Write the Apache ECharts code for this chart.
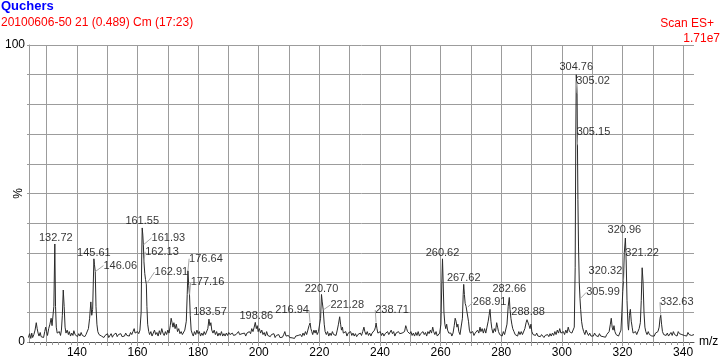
<!DOCTYPE html>
<html>
<head>
<meta charset="utf-8">
<script src="https://cdn.jsdelivr.net/npm/echarts@6/dist/echarts.min.js"></script>
<style>
  html, body { margin: 0; padding: 0; background: #fff; }
  #chart { width: 724px; height: 362px; }
</style>
</head>
<body>
<div id="chart"></div>
<script>
// spectrum profile, [m/z, % relative intensity]
const profile = [
  [124.0,1.5],[124.4,2.8],[124.8,1.2],[125.1,3.0],[125.4,1.5],[125.8,2.5],[126.2,4.0],[126.6,6.5],[126.9,4.5],[127.2,3.0],
  [127.5,2.0],[127.9,3.2],[128.2,1.8],[128.6,2.2],[129.0,1.5],[129.4,3.5],[129.7,5.0],[130.0,3.5],[130.3,2.2],[130.7,4.5],
  [131.1,6.0],[131.5,8.0],[131.8,5.5],[132.1,6.0],[132.4,12.0],[132.72,33.0],[132.95,12.0],[133.2,5.0],[133.5,3.0],[133.9,2.5],
  [134.2,3.5],[134.6,2.2],[134.9,4.0],[135.2,9.0],[135.5,17.5],[135.8,12.0],[136.1,5.0],[136.4,3.0],[136.8,4.0],[137.2,2.5],
  [137.5,3.5],[137.9,2.0],[138.3,3.0],[138.7,2.2],[139.0,3.8],[139.4,2.5],[139.8,3.0],[140.2,1.8],[140.6,2.8],[141.0,2.0],
  [141.4,3.2],[141.8,2.2],[142.2,2.6],[142.6,1.8],[143.0,2.5],[143.4,3.0],[143.8,4.5],[144.2,8.0],[144.6,13.5],[144.9,9.0],
  [145.2,11.0],[145.61,28.0],[145.8,26.0],[146.06,23.7],[146.3,12.0],[146.6,6.0],[146.9,3.5],[147.3,2.5],[147.7,3.0],[148.1,2.0],
  [148.5,2.5],[148.9,1.5],[149.3,2.2],[149.7,1.8],[150.1,2.8],[150.5,1.5],[150.9,2.0],[151.3,2.8],[151.7,1.6],[152.1,2.4],
  [152.5,2.0],[152.9,3.0],[153.3,1.8],[153.7,2.5],[154.1,2.0],[154.5,2.8],[154.9,1.8],[155.3,2.4],[155.7,2.0],[156.1,3.0],
  [156.5,2.2],[156.9,2.6],[157.3,2.0],[157.7,3.2],[158.1,2.5],[158.5,3.5],[158.9,4.5],[159.2,3.0],[159.6,2.5],[160.0,3.5],
  [160.4,2.8],[160.8,4.0],[161.2,10.0],[161.4,30.0],[161.55,38.4],[161.75,36.0],[161.93,32.7],[162.13,27.0],[162.4,23.0],[162.65,21.0],
  [162.91,19.5],[163.1,12.0],[163.35,6.0],[163.7,3.5],[164.0,2.5],[164.4,3.5],[164.8,2.0],[165.2,3.0],[165.6,4.0],[166.0,2.5],
  [166.4,3.2],[166.8,2.0],[167.2,3.8],[167.6,2.5],[168.0,4.5],[168.4,3.0],[168.8,2.2],[169.2,3.5],[169.6,2.5],[170.0,4.0],
  [170.4,3.0],[170.8,5.5],[171.1,8.0],[171.4,6.5],[171.7,5.0],[172.0,6.5],[172.4,4.5],[172.8,6.0],[173.2,3.5],[173.6,4.5],
  [174.0,2.8],[174.4,3.5],[174.8,2.5],[175.2,3.0],[175.6,4.0],[176.1,7.0],[176.4,16.0],[176.64,24.0],[176.9,19.0],[177.16,15.8],
  [177.4,9.0],[177.7,4.0],[178.0,3.0],[178.4,2.0],[178.8,3.5],[179.2,2.5],[179.6,4.0],[180.0,2.8],[180.4,3.5],[180.8,2.0],
  [181.2,3.0],[181.6,2.2],[182.0,3.5],[182.4,2.5],[182.8,3.0],[183.2,4.5],[183.57,7.7],[183.9,5.5],[184.2,6.5],[184.5,4.0],
  [184.9,3.0],[185.3,4.0],[185.7,2.5],[186.1,3.5],[186.5,2.0],[186.9,3.0],[187.3,2.2],[187.7,3.5],[188.1,2.0],[188.5,2.8],
  [188.9,2.0],[189.3,3.0],[189.7,2.2],[190.1,3.2],[190.5,2.5],[190.9,2.0],[191.3,3.0],[191.7,2.2],[192.1,1.8],[192.5,2.5],
  [192.9,2.0],[193.3,3.5],[193.7,2.5],[194.1,2.0],[194.5,2.8],[194.9,2.2],[195.3,3.0],[195.7,2.0],[196.1,3.0],[196.5,2.5],
  [196.9,3.5],[197.3,2.8],[197.7,4.5],[198.1,3.5],[198.5,5.0],[198.86,6.6],[199.2,4.5],[199.5,5.5],[199.8,3.5],[200.2,4.5],
  [200.6,3.0],[201.0,4.0],[201.4,2.5],[201.8,3.2],[202.2,2.0],[202.6,3.5],[203.0,2.2],[203.4,2.8],[203.8,1.8],[204.2,2.5],
  [204.6,2.0],[205.0,2.8],[205.4,1.5],[205.8,2.2],[206.2,1.8],[206.6,2.5],[207.0,1.5],[207.4,2.0],[207.8,1.6],[208.2,2.4],
  [208.6,3.5],[209.0,2.0],[209.4,1.5],[209.8,2.2],[210.2,1.5],[210.6,2.0],[211.0,1.4],[211.4,1.8],[211.8,1.2],[212.2,2.0],
  [212.6,1.5],[213.0,2.2],[213.4,1.6],[213.8,2.5],[214.2,1.8],[214.6,3.0],[215.0,2.2],[215.4,3.5],[215.8,2.5],[216.2,4.0],
  [216.6,5.5],[216.94,6.4],[217.2,4.5],[217.5,3.5],[217.8,2.5],[218.2,4.0],[218.6,3.0],[218.9,4.0],[219.3,2.5],[219.7,3.5],
  [220.1,3.0],[220.4,8.0],[220.70,16.0],[220.95,13.5],[221.28,10.8],[221.6,6.0],[221.9,3.5],[222.3,2.5],[222.7,3.5],[223.1,2.0],
  [223.5,3.0],[223.9,2.2],[224.3,3.5],[224.7,2.5],[225.1,3.0],[225.5,2.2],[225.9,4.0],[226.3,6.0],[226.7,8.5],[227.0,6.0],
  [227.3,4.0],[227.6,5.0],[227.9,3.0],[228.3,2.5],[228.7,3.5],[229.1,2.0],[229.5,3.0],[229.9,2.5],[230.3,3.5],[230.7,2.2],
  [231.1,3.0],[231.5,2.0],[231.9,2.8],[232.3,1.8],[232.7,2.5],[233.1,2.0],[233.5,3.0],[233.9,2.2],[234.3,3.5],[234.7,5.0],
  [235.0,3.5],[235.4,2.5],[235.8,3.5],[236.2,2.2],[236.6,3.0],[237.0,2.0],[237.4,3.0],[237.8,2.5],[238.2,4.0],[238.5,5.0],
  [238.71,6.4],[239.0,4.5],[239.3,3.0],[239.7,2.5],[240.1,3.5],[240.5,2.2],[240.9,3.0],[241.3,2.0],[241.7,2.8],[242.1,2.2],
  [242.5,3.5],[242.9,2.5],[243.3,3.0],[243.7,4.0],[244.1,2.8],[244.5,3.5],[244.9,2.0],[245.3,3.0],[245.7,2.5],[246.1,3.5],
  [246.5,2.8],[246.9,2.5],[247.3,3.0],[247.7,2.5],[248.1,3.5],[248.5,5.5],[248.8,4.5],[249.1,3.5],[249.4,4.0],[249.8,2.8],
  [250.2,3.5],[250.6,2.2],[251.0,3.0],[251.4,2.0],[251.8,3.2],[252.2,2.2],[252.6,3.5],[253.0,2.0],[253.4,2.8],[253.8,2.2],
  [254.2,3.5],[254.6,2.5],[255.0,3.2],[255.4,2.0],[255.8,3.5],[256.2,2.8],[256.6,4.0],[257.0,3.0],[257.4,5.0],[257.7,3.5],
  [258.1,2.5],[258.5,3.5],[258.9,2.0],[259.3,2.5],[259.7,3.0],[260.1,6.0],[260.4,20.0],[260.62,28.0],[260.85,20.0],[261.1,10.0],
  [261.4,6.0],[261.7,4.5],[262.0,6.0],[262.3,4.0],[262.7,3.0],[263.0,2.5],[263.4,3.0],[263.7,2.0],[264.1,3.0],[264.5,5.5],
  [264.8,8.0],[265.1,7.0],[265.4,5.0],[265.7,6.0],[266.0,3.5],[266.4,2.5],[266.8,3.0],[267.2,8.0],[267.45,16.0],[267.62,19.4],
  [267.85,16.0],[268.1,13.0],[268.4,12.0],[268.65,12.5],[268.91,11.7],[269.2,7.0],[269.5,4.0],[269.8,3.0],[270.2,2.5],[270.6,3.5],
  [271.0,2.2],[271.4,3.0],[271.8,2.5],[272.2,4.0],[272.6,3.0],[273.0,5.0],[273.3,3.5],[273.7,4.5],[274.1,3.0],[274.5,4.5],
  [274.9,3.0],[275.3,5.0],[275.7,7.0],[276.0,9.0],[276.3,11.0],[276.6,7.0],[276.9,4.5],[277.3,3.0],[277.7,4.5],[278.1,3.5],
  [278.5,6.5],[278.8,5.0],[279.1,3.5],[279.5,2.5],[279.9,3.0],[280.3,2.0],[280.7,3.5],[281.1,2.5],[281.5,3.0],[281.9,6.0],
  [282.3,12.0],[282.66,15.0],[282.9,11.0],[283.2,8.0],[283.5,6.0],[283.8,4.5],[284.2,3.5],[284.6,2.5],[285.0,3.0],[285.4,2.0],
  [285.8,3.5],[286.2,2.5],[286.6,3.5],[287.0,2.5],[287.4,3.0],[287.8,4.5],[288.2,6.5],[288.5,7.5],[288.88,7.9],[289.2,5.5],
  [289.5,4.5],[289.8,6.0],[290.1,3.5],[290.5,2.5],[290.9,3.0],[291.3,2.2],[291.7,3.0],[292.1,2.0],[292.5,2.5],[292.9,1.8],
  [293.3,2.5],[293.7,2.0],[294.1,1.5],[294.5,2.2],[294.9,1.8],[295.3,2.5],[295.7,1.8],[296.1,2.8],[296.5,2.0],[296.9,3.0],
  [297.3,2.2],[297.7,3.5],[298.1,2.5],[298.5,4.0],[298.9,3.0],[299.3,4.5],[299.7,3.0],[300.1,2.5],[300.5,3.5],[300.9,2.5],
  [301.3,4.0],[301.7,3.0],[302.1,5.0],[302.5,3.5],[302.9,4.0],[303.3,3.0],[303.7,3.5],[304.1,5.0],[304.4,25.0],[304.6,70.0],
  [304.76,90.0],[304.9,87.0],[305.02,83.7],[305.15,66.3],[305.3,48.0],[305.5,32.0],[305.75,20.0],[305.99,14.5],[306.2,11.0],[306.5,7.0],
  [306.8,5.0],[307.2,3.5],[307.6,2.5],[308.0,4.0],[308.4,3.0],[308.8,2.2],[309.2,3.0],[309.6,2.0],[310.0,2.5],[310.4,2.0],
  [310.8,3.0],[311.2,2.2],[311.6,2.5],[312.0,1.8],[312.4,2.8],[312.8,2.0],[313.2,2.5],[313.6,1.8],[314.0,2.2],[314.4,1.6],
  [314.8,2.5],[315.2,2.0],[315.6,3.5],[316.0,6.0],[316.3,8.0],[316.6,5.0],[316.9,4.0],[317.2,5.5],[317.5,3.5],[317.9,2.5],
  [318.3,3.0],[318.7,2.0],[319.1,2.5],[319.5,4.0],[319.8,10.0],[320.1,17.0],[320.32,20.3],[320.6,30.0],[320.96,35.0],[321.22,27.6],
  [321.5,14.0],[321.8,6.0],[322.0,4.0],[322.3,9.0],[322.6,11.0],[322.9,7.0],[323.2,5.0],[323.5,3.0],[323.9,2.5],[324.3,3.5],
  [324.7,2.5],[325.1,3.0],[325.5,4.5],[325.9,6.5],[326.2,14.0],[326.5,25.0],[326.8,20.0],[327.1,10.0],[327.4,5.0],[327.7,3.5],
  [328.1,2.5],[328.5,3.5],[328.9,2.5],[329.3,3.0],[329.7,2.0],[330.1,2.5],[330.5,2.0],[330.9,3.0],[331.3,2.5],[331.7,3.5],
  [332.1,5.0],[332.4,8.0],[332.63,9.0],[332.9,6.0],[333.2,3.5],[333.6,2.5],[334.0,3.0],[334.4,2.2],[334.8,3.0],[335.2,2.0],
  [335.6,2.5],[336.0,3.2],[336.4,2.2],[336.8,3.5],[337.2,2.5],[337.6,3.0],[338.0,2.0],[338.4,3.5],[338.8,2.8],[339.2,3.2],
  [339.6,2.5],[340.0,3.0],[340.4,2.2],[340.8,2.8],[341.2,2.0],[341.6,3.2],[342.0,2.5],[342.4,3.0],[342.8,2.2],[343.2,2.8],[343.6,2.5]
];

// annotated peaks (m/z text as printed)
const peakLabels = [
  '132.72', '145.61', '146.06', '161.55', '161.93', '162.13', '162.91', '176.64', '177.16', '183.57',
  '198.86', '216.94', '220.70', '221.28', '238.71', '260.62', '267.62', '268.91', '282.66', '288.88',
  '304.76', '305.02', '305.15', '305.99', '320.32', '320.96', '321.22', '332.63'
];

// where each label's centre sits relative to its peak point (px), and whether a leader line is drawn
const labelOffsets = [
  [1, -6], [0, -6], [25, -6], [0, -7], [25, -7], [18, -10], [25, -12], [18, -12], [18, -13], [1, -7],
  [1, -6], [-18, -13], [0, -6], [24, -5], [16, -13], [0, -6], [0, -6], [22, -5], [0, -8], [0, -6.5],
  [0, -8], [16, -12], [16, -13.5], [23, -6.5], [-18, -11], [-1, -8.5], [16, -7.5], [16, -13]
];
const hasLeader = [
  false, false, true, false, true, true, true, true, true, false,
  false, true, false, true, true, false, false, true, false, false,
  false, true, true, true, true, false, true, true
];

const xGridValues = [130, 140, 150, 160, 170, 180, 190, 200, 210, 220, 230, 240, 250, 260, 270, 280, 290, 300, 310, 320, 330, 340];
const xLabelValues = [140, 160, 180, 200, 220, 240, 260, 280, 300, 320, 340];
const yLabelValues = [0, 100];

const minorTicks = [];
for (let v = 126; v <= 342; v += 2) minorTicks.push(v);

const font = 'Liberation Sans, Arial, sans-serif';
const gridColor = '#9c9c9c';

const peakData = peakLabels.map((txt, i) => {
  const m = parseFloat(txt);
  const pt = profile.find(p => Math.abs(p[0] - m) < 0.001);
  return {
    value: [m, pt ? pt[1] : 0],
    name: txt,
    labelLine: { show: hasLeader[i] }
  };
});

const chart = echarts.init(document.getElementById('chart'));

const option = {
  animation: false,
  backgroundColor: '#fff',
  title: [
    { text: 'Quchers', left: 1, top: 0, padding: 0,
      textStyle: { color: '#0000ff', fontSize: 13, fontWeight: 'bold', fontFamily: font } },
    { text: '20100606-50 21 (0.489) Cm (17:23)', left: 1, top: 17, padding: 0,
      textStyle: { color: '#ff0000', fontSize: 12, fontWeight: 'normal', fontFamily: font } },
    { text: 'Scan ES+', right: 10, top: 18, padding: 0,
      textStyle: { color: '#ff0000', fontSize: 12, fontWeight: 'normal', fontFamily: font } },
    { text: '1.71e7', right: 4, top: 33, padding: 0,
      textStyle: { color: '#ff0000', fontSize: 12, fontWeight: 'normal', fontFamily: font } }
  ],
  grid: { left: 29, right: 30, top: 45, bottom: 20, containLabel: false, outerBoundsMode: 'none' },
  xAxis: [
    {
      type: 'value',
      min: 124.2,
      max: 343.6,
      name: 'm/z',
      nameLocation: 'end',
      nameGap: 5,
      nameTextStyle: { color: '#000', fontSize: 12, fontFamily: font },
      axisLine: { show: true, lineStyle: { color: '#555', width: 1 } },
      axisTick: { show: true, length: 4, customValues: xGridValues, lineStyle: { color: gridColor } },
      axisLabel: { customValues: xLabelValues, margin: 5, color: '#000', fontSize: 12, fontFamily: font },
      splitLine: { show: true, lineStyle: { color: gridColor, width: 1 } }
    },
    {
      type: 'value',
      min: 124.2,
      max: 343.6,
      position: 'bottom',
      axisLine: { show: false },
      axisTick: { show: true, length: 3, customValues: minorTicks, lineStyle: { color: gridColor } },
      axisLabel: { show: false },
      splitLine: { show: false }
    }
  ],
  yAxis: {
    type: 'value',
    min: 0,
    max: 100,
    interval: 10,
    name: '%',
    nameLocation: 'middle',
    nameRotate: 90,
    nameGap: 4,
    nameMoveOverlap: false,
    nameTextStyle: { color: '#000', fontSize: 12, fontFamily: font },
    axisLine: { show: true, lineStyle: { color: gridColor } },
    axisTick: { show: true, length: 2, lineStyle: { color: gridColor } },
    axisLabel: {
      margin: 4, color: '#000', fontSize: 12, fontFamily: font,
      formatter: v => (yLabelValues.indexOf(v) >= 0 ? String(v) : '')
    },
    splitLine: { show: true, lineStyle: { color: gridColor, width: 1 } }
  },
  series: [
    {
      type: 'line',
      data: profile,
      showSymbol: false,
      symbol: 'none',
      silent: true,
      lineStyle: { color: '#2a2a2a', width: 1 },
      z: 3
    },
    {
      type: 'scatter',
      data: peakData,
      symbolSize: 1,
      itemStyle: { color: 'transparent' },
      silent: true,
      z: 4,
      label: {
        show: true,
        position: 'inside',
        formatter: p => p.name,
        color: '#000',
        fontSize: 11,
        fontFamily: font
      },
      labelLine: { show: false, lineStyle: { color: '#a8a8a8', width: 1 } },
      labelLayout: function (p) {
        const off = labelOffsets[p.dataIndex];
        const ax = p.rect.x + p.rect.width / 2;
        const ay = p.rect.y + p.rect.height / 2;
        const cx = p.labelRect.x + p.labelRect.width / 2;
        const cy = p.labelRect.y + p.labelRect.height / 2;
        return { dx: ax + off[0] - cx, dy: ay + off[1] - cy };
      }
    }
  ]
};

chart.setOption(option);
</script>
</body>
</html>
